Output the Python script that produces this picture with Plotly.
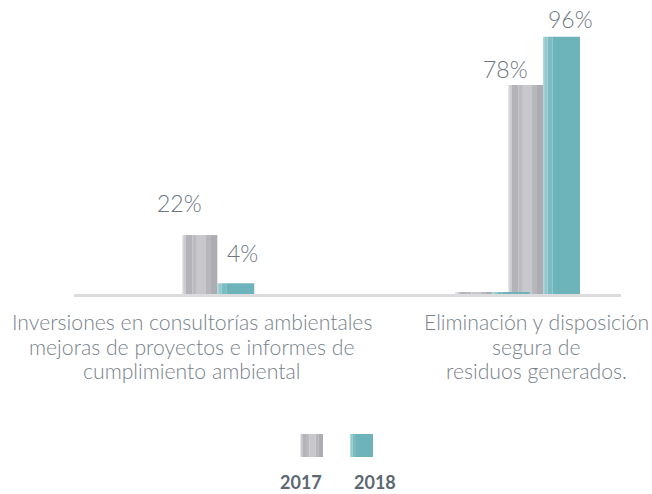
import plotly.graph_objects as go

# ---- data ----
categories = ["Inversiones en consultorías ambientales<br>mejoras de proyectos e informes de<br>cumplimiento ambiental",
              "Eliminación y disposición<br>segura de<br>residuos generados."]
series_names = ["2017", "2018"]
values_2017 = [22, 78]
values_2018 = [4, 96]
stub_2017 = [None, 0.5]
stub_2018 = [None, 0.5]
label_2017 = ["22%", "78%"]
label_2018 = ["4%", "96%"]

# ---- styles ----
GRAY_STOPS = [(0.00, 0.04, "#e6e6e9"), (0.04, 0.10, "#cacacf"), (0.10, 0.30, "#b3b3b9"),
              (0.30, 0.42, "#bbbbc0"), (0.42, 0.68, "#c8c8cc"), (0.68, 0.82, "#b6b6bb"),
              (0.82, 1.00, "#acacb2")]
TEAL_STOPS = [(0.00, 0.04, "#b0d8db"), (0.04, 0.12, "#93c9cd"), (0.12, 0.26, "#7bbcc2"),
              (0.26, 1.00, "#6cb3ba")]

fig = go.Figure()

def add_bar(values, offsets, width, stops, name):
    for f0, f1, col in stops:
        fig.add_trace(go.Bar(
            x=categories, y=values, name=name, showlegend=False,
            offset=[o + f0 * width for o in offsets], width=(f1 - f0) * width,
            marker=dict(color=col, line=dict(width=0)), hoverinfo="skip"))

W_G = 0.129
W_T = 0.135
add_bar(values_2017, [-0.105, 0.087], W_G, GRAY_STOPS, "2017")
add_bar(values_2018, [0.024, 0.215], W_T, TEAL_STOPS, "2018")
add_bar(stub_2017, [-0.105, -0.104], W_T, GRAY_STOPS, "2017")
add_bar(stub_2018, [0.024, 0.031], W_T, TEAL_STOPS, "2018")

LABEL_FONT = dict(family="Lato", size=23, color="#6d767f", weight=300)
xs_2017 = [-31, 21]
ys_2017 = [32, 16]
xs_2018 = [32, 86]
ys_2018 = [30, 18]
for i in range(len(categories)):
    fig.add_annotation(x=categories[i], y=values_2017[i], text=label_2017[i], showarrow=False,
                       xshift=xs_2017[i], yshift=ys_2017[i], yanchor="middle", font=LABEL_FONT)
    fig.add_annotation(x=categories[i], y=values_2018[i], text=label_2018[i], showarrow=False,
                       xshift=xs_2018[i], yshift=ys_2018[i], yanchor="middle", font=LABEL_FONT)

CAT_FONT = dict(family="Lato", size=21.2, color="#78818a", weight=300)
cat_shift = [-19, 52]
LINE_H = 24.5
for i, c in enumerate(categories):
    for j, line in enumerate(c.split("<br>")):
        fig.add_annotation(x=c, y=0, yref="paper", text=line, showarrow=False, yanchor="middle",
                           yshift=-(28 + j * LINE_H), xshift=cat_shift[i], font=CAT_FONT)

# ---- legend (manual) ----
leg_x = [(0.4132, 0.4552), (0.5046, 0.5466)]
leg_y = (-0.574, -0.493)
leg_text_x = [0.415, 0.5503]
for (x0, x1), stops, name, tx in zip(leg_x, [GRAY_STOPS, TEAL_STOPS], series_names, leg_text_x):
    for f0, f1, col in stops:
        fig.add_shape(type="rect", xref="paper", yref="paper",
                      x0=x0 + f0 * (x1 - x0), x1=x0 + f1 * (x1 - x0),
                      y0=leg_y[0], y1=leg_y[1], fillcolor=col, line=dict(width=0))
    fig.add_annotation(x=tx, y=-0.662, xref="paper", yref="paper", text=name, showarrow=False,
                       yanchor="middle", font=dict(family="Lato", size=18, color="#5c6771", weight="bold"))

fig.update_layout(
    width=652, height=494, barmode="overlay",
    margin=dict(l=74, r=31, t=10, b=200),
    paper_bgcolor="white", plot_bgcolor="white", showlegend=False,
    xaxis=dict(range=[-0.5, 1.5], showticklabels=False, showgrid=False, zeroline=False,
               showline=True, linecolor="#dcdcdf", linewidth=3, ticks=""),
    yaxis=dict(range=[0, 106], visible=False, showgrid=False, zeroline=False),
)

fig.write_html("out.html", config={"displayModeBar": False},
               post_script="document.body.style.margin='0';document.body.style.overflow='hidden';")
